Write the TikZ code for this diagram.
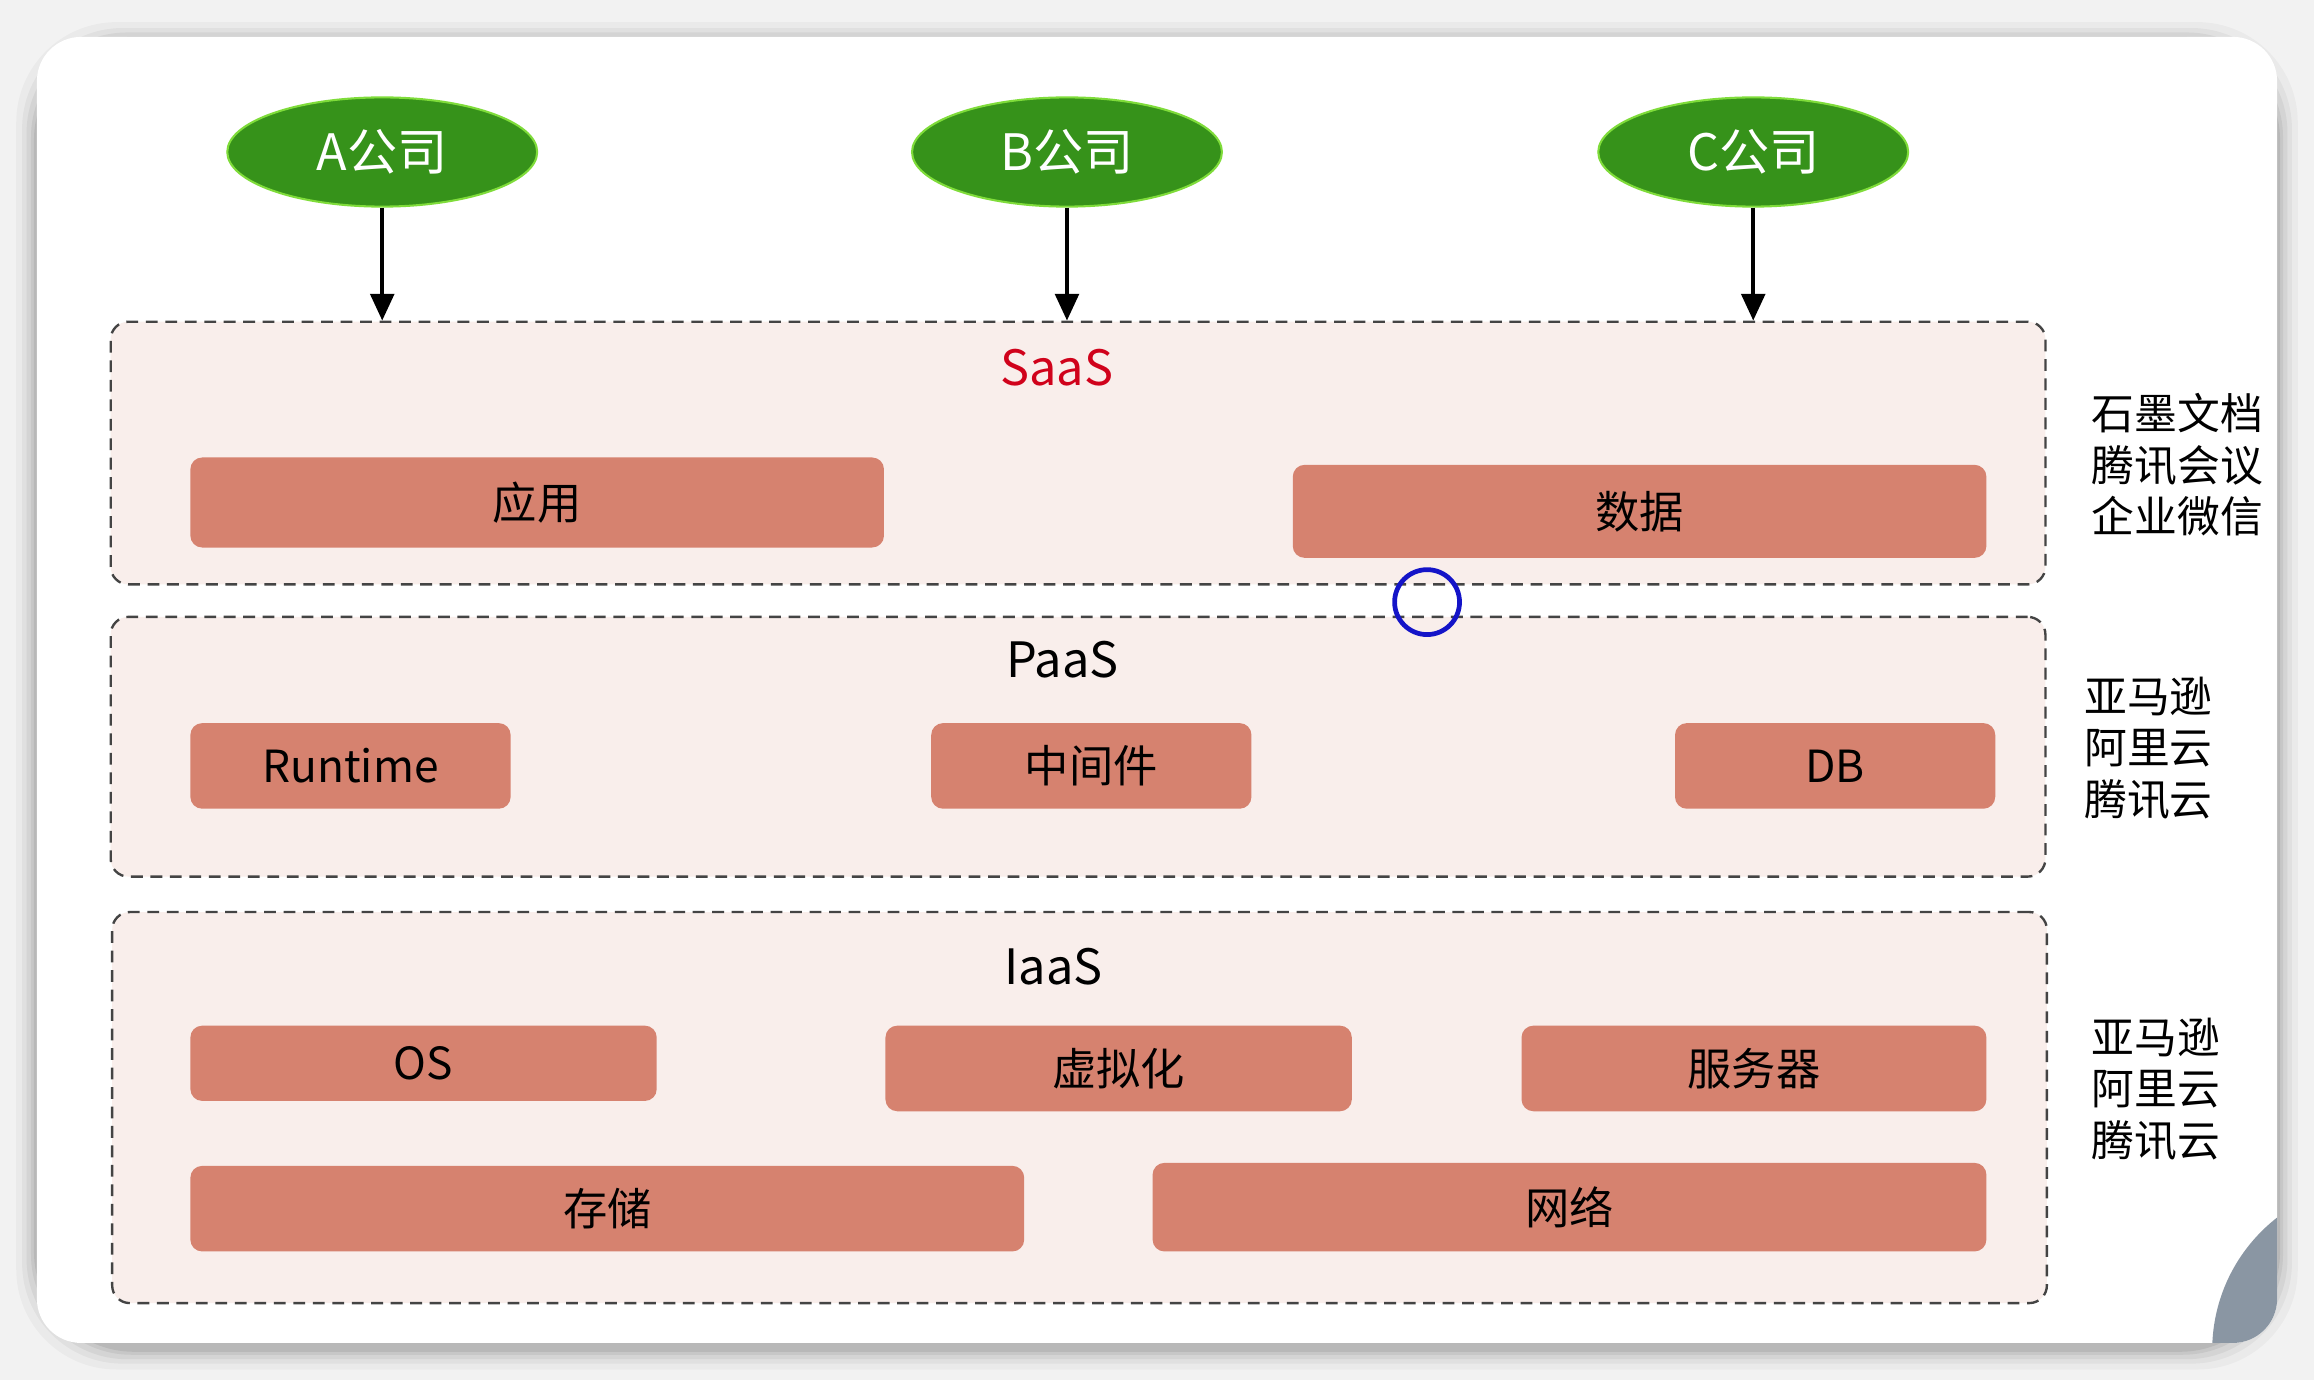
\documentclass[tikz,border=0pt]{standalone}
\usepackage{fontspec}
\setmainfont{Noto Sans CJK SC}
\usetikzlibrary{arrows.meta,shapes.geometric}
\definecolor{pagebg}{HTML}{F2F2F2}
\definecolor{boxfill}{HTML}{D6826F}
\definecolor{layerfill}{HTML}{F9EEEB}
\definecolor{dashgray}{HTML}{444444}
\definecolor{compgreen}{HTML}{36921A}
\definecolor{compedge}{HTML}{7FDC3A}
\definecolor{titlered}{HTML}{D0021B}
\definecolor{ringblue}{HTML}{1414C8}
\definecolor{cornergray}{HTML}{8A96A3}
\begin{document}
\begin{tikzpicture}[x=0.5pt,y=-0.5pt,
  layer/.style={draw=dashgray, dash pattern=on 4pt off 2.6pt, line width=0.8pt,
    fill=layerfill, rounded corners=6pt, inner sep=0pt},
  svc/.style={fill=boxfill, rounded corners=4pt, inner sep=0pt,
    font=\fontsize{15}{18}\selectfont, text=black},
  company/.style={ellipse, fill=compgreen, draw=compedge, line width=0.7pt,
    minimum width=105pt, minimum height=37pt, inner sep=0pt,
    text=white, font=\fontsize{17}{20}\selectfont},
  ltitle/.style={font=\fontsize{16.5}{20}\selectfont, inner sep=0pt},
  vendor/.style={align=left, anchor=west, inner sep=0pt,
    font=\fontsize{14.5}{17.5}\selectfont},
  feed/.style={line width=1.2pt, -{Triangle[length=9pt,width=8pt]}}]
\useasboundingbox (0,0) rectangle (1568,935);
\fill[pagebg] (0,0) rectangle (1568,935);
% card shadow
\foreach \s/\o in {14/0.03,10/0.04,7/0.05,4/0.06,2/0.07}{
  \fill[black, opacity=\o, rounded corners=34pt] (25-\s,25-\s+4) rectangle (1543+\s,910+\s+4);
}
\fill[white, rounded corners=15pt] (25,25) rectangle (1543,910);
\begin{scope}
  \clip[rounded corners=15pt] (25,25) rectangle (1543,910);
  \fill[cornergray] (1613,915) circle[radius=57pt];
\end{scope}

% layers
\node[layer, minimum width=655.5pt, minimum height=89pt] (saas) at (730.5,307) {};
\node[layer, minimum width=655.5pt, minimum height=88pt] (paas) at (730.5,506) {};
\node[layer, minimum width=655.5pt, minimum height=132.5pt] (iaas) at (731.5,750.5) {};

\node[ltitle, text=titlered] (saast) at (716,249) {SaaS};
\node[ltitle] (paast) at (720,447) {PaaS};
\node[ltitle] (iaast) at (714,655) {IaaS};

% companies
\node[company] (ca) at (259,103) {A公司};
\node[company] (cb) at (723,103) {B公司};
\node[company] (cc) at (1188,103) {C公司};
\draw[feed] (ca.south) -- (ca.south |- saas.north);
\draw[feed] (cb.south) -- (cb.south |- saas.north);
\draw[feed] (cc.south) -- (cc.south |- saas.north);

% SaaS
\node[svc, minimum width=235pt, minimum height=30.5pt] (app) at (364,340.5) {应用};
\node[svc, minimum width=235pt, minimum height=31.5pt] (data) at (1111,346.5) {数据};
% PaaS
\node[svc, minimum width=108.5pt, minimum height=29pt] (rt) at (237.5,519) {Runtime};
\node[svc, minimum width=108.5pt, minimum height=29pt] (mw) at (739.5,519) {中间件};
\node[svc, minimum width=108.5pt, minimum height=29pt] (db) at (1243.5,519) {DB};
% IaaS
\node[svc, minimum width=158pt, minimum height=25.5pt] (os) at (287,720.5) {OS};
\node[svc, minimum width=158pt, minimum height=29pt] (virt) at (758,724) {虚拟化};
\node[svc, minimum width=157.5pt, minimum height=29pt] (srv) at (1188.5,724) {服务器};
\node[svc, minimum width=282.5pt, minimum height=29pt] (sto) at (411.5,819) {存储};
\node[svc, minimum width=282.5pt, minimum height=30pt] (net) at (1063.5,818) {网络};

% marker ring
\node[circle, draw=ringblue, line width=1.6pt, minimum size=22pt, inner sep=0pt] (ring) at (967,408) {};

% vendors
\node[vendor] (v1) at (1417,315) {石墨文档\\腾讯会议\\企业微信};
\node[vendor] (v2) at (1412,507) {亚马逊\\阿里云\\腾讯云};
\node[vendor] (v3) at (1417,738) {亚马逊\\阿里云\\腾讯云};
\end{tikzpicture}
\end{document}
